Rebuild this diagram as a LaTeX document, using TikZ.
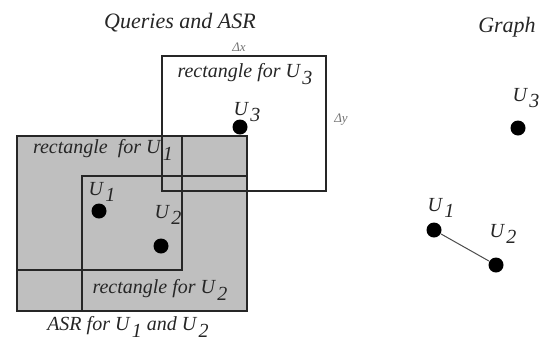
\documentclass[tikz,border=0pt]{standalone}
\usepackage{fontspec}
\setmainfont{Liberation Serif}
\usetikzlibrary{positioning}

% U with a large, lowered index as in the figure
\newcommand{\usub}[1]{U\kern0.12em\raisebox{-0.75ex}{#1}}

\begin{document}
\begin{tikzpicture}[x=1pt, y=-1pt, line width=1.2pt,
    box/.style={draw=black!85},
    asr/.style={fill=black!25},
    dot/.style={circle, fill=black, inner sep=0pt, minimum size=15pt},
    lbl/.style={font=\itshape\fontsize{20}{20}\selectfont, inner sep=0pt, text=black!85},
    ttl/.style={lbl, font=\itshape\fontsize{22}{22}\selectfont},
    delta/.style={font=\itshape\fontsize{13}{13}\selectfont, inner sep=0pt, text=black!55},
    edge/.style={draw=black!70, line width=1pt}]
  \useasboundingbox (0,0) rectangle (543,341);
  % Regiones
  \fill[asr] (17,136) rectangle (247,311);
  \draw[box] (17,136) rectangle (182,270);
  \draw[box] (82,176) rectangle (247,311);
  \draw[box] (162,56) rectangle (326,191);
  \draw[box] (17,136) rectangle (247,311);
  % Titulos
  \node[ttl] (qtitle) at (180,23) {Queries and ASR};
  \node[ttl] (gtitle) at (507,27) {Graph};
  \node[delta] (dx) at (239,47) {Δx};
  \node[delta] (dy) at (341,120) {Δy};
  % Textos de los rectangulos
  \node[lbl] (r3) at (245,74) {rectangle for \usub{3}};
  \node[lbl] (r1) at (103,150) {rectangle\ \ for \usub{1}};
  \node[lbl] (r2) at (160,290) {rectangle for \usub{2}};
  \node[lbl] (asrtxt) at (128,327) {ASR for \usub{1} and \usub{2}};
  % Consultas
  \node[dot] (q1) at (99,211) {};
  \node[dot] (q2) at (161,246) {};
  \node[dot] (q3) at (240,127) {};
  \node[lbl] (q1l) at (102,192) {\usub{1}};
  \node[lbl] (q2l) at (168,215) {\usub{2}};
  \node[lbl] (q3l) at (247,112) {\usub{3}};
  % Grafo
  \node[dot] (g1) at (434,230) {};
  \node[dot] (g2) at (496,265) {};
  \node[dot] (g3) at (518,128) {};
  \node[lbl] (g1l) at (441,208) {\usub{1}};
  \node[lbl] (g2l) at (503,234) {\usub{2}};
  \node[lbl] (g3l) at (526,98) {\usub{3}};
  \draw[edge] (g1) -- (g2);
\end{tikzpicture}
\end{document}
